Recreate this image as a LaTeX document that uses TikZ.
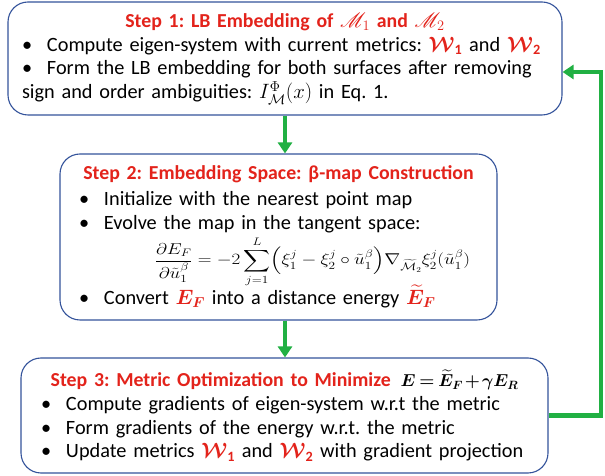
\documentclass[tikz,border=0pt]{standalone}
\usepackage{amsmath,amssymb,bm}
\usepackage{mathrsfs}
\usepackage{fontspec}
\setmainfont{Carlito}
\usetikzlibrary{arrows.meta,positioning,calc}
\definecolor{stepred}{HTML}{E3231B}
\definecolor{boxblue}{HTML}{34539B}
\definecolor{loopgreen}{HTML}{21B043}
\frenchspacing
\newcommand{\bul}[1]{\par\hangindent=25pt\hangafter=1\noindent\makebox[25pt][l]{\textbullet}#1}
\newcommand{\Wm}[1]{\textcolor{stepred}{$\bm{\mathcal{W}}_{\text{\bfseries #1}}$}}
\newcommand{\steptitle}[1]{\noindent\makebox[\linewidth]{\fontsize{19.8}{23.8}\selectfont\bfseries\color{stepred}#1}\par}

\begin{document}
\begin{tikzpicture}[x=1pt, y=1pt,
  stepbox/.style={draw=boxblue, line width=1.1pt, rounded corners=20pt, align=left, fill=white,
    font=\fontsize{20.3}{23.8}\selectfont, inner ysep=4pt},
  loop/.style={draw=loopgreen, line width=4.5pt, -{Triangle[length=11pt,width=14pt]}}]
\useasboundingbox (0,0) rectangle (605,476);
% step boxes
\node[stepbox, inner xsep=14pt, minimum width=554pt, minimum height=113pt, text width=526pt] (lb) at (285,417.5) {%
  \steptitle{Step 1: LB Embedding of $\mathscr{M}_1$ and $\mathscr{M}_2$}
  \bul{Compute eigen-system with current metrics: \Wm1 and \Wm2}
  \bul{Form the LB embedding for both surfaces after removing sign and order ambiguities: $I^{\Phi}_{\mathcal{M}}(x)$ in Eq.~1.}};
\node[stepbox, inner xsep=19pt, minimum width=437pt, minimum height=166pt, text width=399pt] (bmap) at (278.5,239) {%
  \steptitle{Step 2: Embedding Space: β-map Construction}\vspace{2pt}
  \bul{Initialize with the nearest point map}
  \bul{Evolve the map in the tangent space:}
  \par\vspace{3pt}\noindent\hspace*{76pt}\resizebox*{315pt}{50pt}{$\displaystyle\frac{\partial E_F}{\partial\tilde{u}_1^{\beta}}=-2\sum_{j=1}^{L}\Bigl(\xi_1^j-\xi_2^j\circ\tilde{u}_1^{\beta}\Bigr)\nabla_{\widetilde{\mathcal{M}}_2}\xi_2^j(\tilde{u}_1^{\beta})$}\par\vspace{-3pt}
  \bul{Convert \textcolor{stepred}{$\bm{E_F}$} into a distance energy \textcolor{stepred}{$\bm{\widetilde{E}_F}$}}};
\node[stepbox, inner xsep=20pt, minimum width=527pt, minimum height=115pt, text width=487pt] (metric) at (284.5,60.5) {%
  \steptitle{Step 3: Metric Optimization to Minimize\enspace{\color{black}\fontsize{17.5}{20}\selectfont$\bm{E\mkern-1mu=\mkern-1mu\widetilde{E}_F\mkern-2mu+\mkern-2mu\gamma E_R}$}}
  \bul{Compute gradients of eigen-system w.r.t the metric}
  \bul{Form gradients of the energy w.r.t. the metric}
  \bul{Update metrics \Wm1 and \Wm2 with gradient projection}};
% connectors
\coordinate (back) at (601,404);
\draw[loop] (lb.south) -- (lb.south |- bmap.north);
\draw[loop] (lb.south |- bmap.south) -- (lb.south |- metric.north);
\draw[loop] (metric.east) -| (back) -- (back -| lb.east);
\end{tikzpicture}
\end{document}
